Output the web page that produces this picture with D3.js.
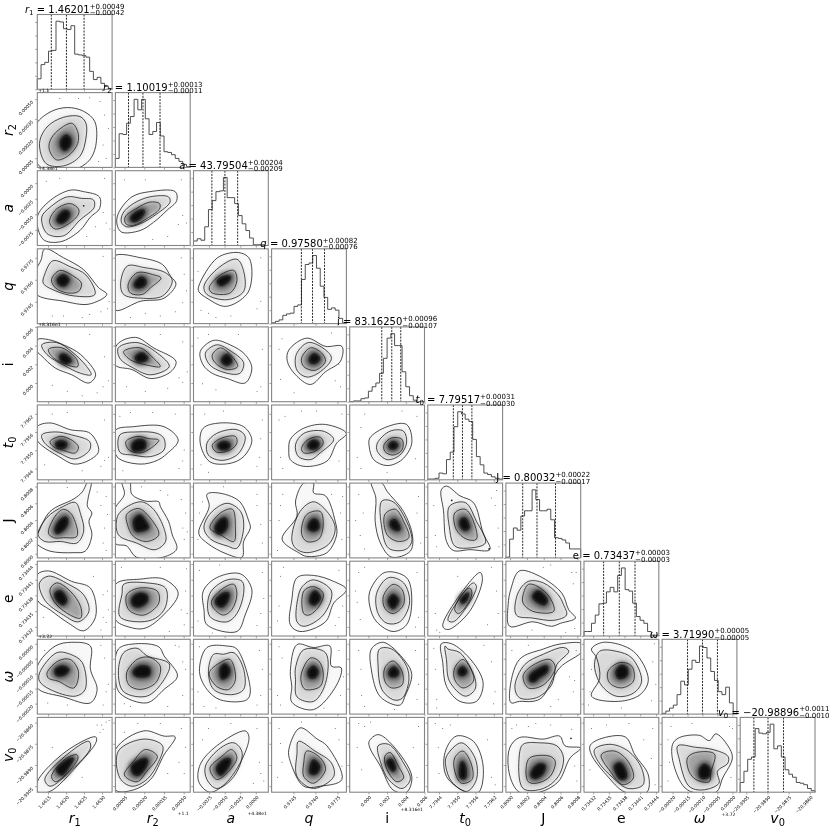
<!DOCTYPE html>
<html>
<head>
<meta charset="utf-8">
<script src="https://cdn.jsdelivr.net/npm/d3@7"></script>
<style>
body { margin: 0; background: #fff; }
text { font-family: "DejaVu Sans", sans-serif; fill: #000; }
#corner { filter: blur(0.35px); }
</style>
</head>
<body>
<svg id="corner" width="830" height="830"></svg>
<script>
// parameter names
const labelBase = ['r','r','a','q','i','t','J','e','ω','v'];
const labelSub = ['1','2','','','','0','','','','0'];
const labelItalic = [true,true,true,true,false,true,false,false,true,true];

// medians and 16/84 percentile offsets from the panel titles
const medians = [1.46201,1.10019,43.79504,0.97580,83.16250,7.79517,0.80032,0.73437,3.71990,-20.98896];
const plusErr = [0.00049,0.00013,0.00204,0.00082,0.00096,0.00031,0.00022,0.00003,0.00005,0.0011];
const minusErr = [0.00042,0.00011,0.00209,0.00076,0.00107,0.00030,0.00017,0.00003,0.00005,0.0010];
const medianText = ['1.46201','1.10019','43.79504','0.97580','83.16250','7.79517','0.80032','0.73437','3.71990','−20.98896'];
const plusText = ['+0.00049','+0.00013','+0.00204','+0.00082','+0.00096','+0.00031','+0.00022','+0.00003','+0.00005','+0.0011'];
const minusText = ['−0.00042','−0.00011','−0.00209','−0.00076','−0.00107','−0.00030','−0.00017','−0.00003','−0.00005','−0.0010'];

// axis spans estimated from where the dashed lines and ticks sit
const axisLo = [1.46120,1.09998,43.790,0.97301,83.158,7.79403,0.79995,0.7343025,3.719765,-20.99093];
const axisHi = [1.46328,1.10055,43.802,0.97811,83.166,7.79649,0.80084,0.7344455,3.720015,-20.98563];

const tickVals = [
  [1.4615,1.4620,1.4625,1.4630],
  [1.10005,1.10020,1.10035,1.10050],
  [43.7925,43.7950,43.7975,43.8000],
  [0.9745,0.9760,0.9775],
  [83.160,83.162,83.164,83.166],
  [7.7944,7.7950,7.7956,7.7962],
  [0.8000,0.8002,0.8004,0.8006,0.8008],
  [0.73432,0.73435,0.73438,0.73441,0.73444],
  [3.71980,3.71985,3.71990,3.71995,3.72000],
  [-20.9905,-20.9890,-20.9875,-20.9860]
];
const tickText = [
  ['1.4615','1.4620','1.4625','1.4630'],
  ['0.00005','0.00020','0.00035','0.00050'],
  ['−0.0075','−0.0050','−0.0025','0.0000'],
  ['0.9745','0.9760','0.9775'],
  ['0.000','0.002','0.004','0.006'],
  ['7.7944','7.7950','7.7956','7.7962'],
  ['0.8000','0.8002','0.8004','0.8006','0.8008'],
  ['0.73432','0.73435','0.73438','0.73441','0.73444'],
  ['−0.00020','−0.00015','−0.00010','−0.00005','0.00000'],
  ['−20.9905','−20.9890','−20.9875','−20.9860']
];
const offsetText = ['','+1.1','+4.38e1','','+8.316e1','','','','+3.72',''];

// histogram heights, percent of the panel height, 20 bins each
const hist_r1 = [14,33,36,51,52,91,90,81,80,85,47,46,45,43,24,13,16,8,4,1];
const hist_r2 = [12,45,44,59,68,91,77,91,65,44,48,60,42,21,20,17,12,8,4,1];
const hist_a = [6,9,7,25,48,60,72,73,91,64,64,56,40,29,20,10,1,1,1,0];
const hist_q = [1,3,5,11,13,14,23,25,59,79,81,91,74,50,35,19,21,18,7,1];
const hist_i = [0,1,1,4,5,14,20,25,38,58,85,91,75,75,40,20,8,2,0,0];
const hist_t0 = [1,1,2,9,8,27,37,71,91,88,81,78,54,31,20,9,7,4,2,1];
const hist_J = [1,25,40,37,56,63,63,91,78,63,63,65,51,27,26,24,20,12,12,12];
const hist_e = [6,6,17,28,43,44,59,65,59,81,91,62,60,44,26,21,17,6,1,1];
const hist_w = [1,4,8,12,26,44,39,60,72,69,91,89,75,57,45,30,26,36,15,1];
const hist_v0 = [13,28,44,47,85,79,78,80,91,58,62,47,30,24,20,13,12,10,5,2];
const histYTicks = [0,18,36,54,72,90];

// contours, x,y pairs in percent of each axis span; order is row by row under the diagonal
const contourOuter = [
 [-3,55,17,74,40,80,62,75,77,61,78,28,70,10,57,0,40,-6,15,-6,-3,10],
 [0,38,17,60,44,74,62,72,83,65,83,49,71,38,57,20,31,5,8,8],
 [4,43,22,65,46,72,80,72,82,60,69,47,51,31,33,20,8,18,2,29],
 [10,100,35,88,62,72,82,48,93,39,69,26,35,30,-2,40,-2,70,5,85],
 [-2,90,34,88,63,79,74,63,81,53,65,34,34,30,0,18,-3,50],
 [7,50,32,88,60,95,74,88,78,63,71,39,43,23,18,34,7,43],
 [0,83,15,83,35,76,58,63,78,36,69,25,46,36,24,45,6,61,0,67],
 [2,76,27,86,51,72,81,54,74,40,47,31,22,43,0,49],
 [9,67,27,82,49,76,69,63,78,45,69,25,45,31,25,38,13,49],
 [23,69,47,85,72,74,94,74,92,54,72,40,52,23,32,36,21,54],
 [0,71,17,76,44,67,71,62,82,38,69,26,49,21,29,31,6,46,0,53],
 [0,66,24,71,65,71,84,53,69,35,56,26,33,21,2,31],
 [9,49,13,69,36,76,67,71,78,53,67,31,49,22,22,24],
 [25,54,43,69,72,74,100,62,87,49,74,25,43,18,25,27,23,40],
 [27,56,50,71,76,74,83,49,70,27,50,19,32,27,26,45],
 [0,31,17,62,49,79,60,88,68,102,72,102,68,80,67,69,73,60,69,49,73,31,64,9,49,7,17,9,0,18,-4,24],
 [9,102,19,102,22,85,40,76,58,75,60,69,71,49,76,31,82,12,64,1,28,1,15,16,0,19,-3,49,0,67,12,85],
 [7,33,21,69,18,85,32,87,61,76,74,49,76,40,67,22,65,1,45,5,18,20],
 [14,25,34,56,32,76,43,100,56,100,56,87,72,83,85,49,87,31,74,7,47,2,36,7],
 [29,102,43,100,50,89,72,62,84,29,81,9,56,1,41,20,34,49,35,80],
 [18,91,25,96,43,83,61,74,74,33,83,11,56,11,34,10,25,22,21,63],
 [0,82,15,87,46,73,71,64,78,26,62,7,42,17,17,35,0,48],
 [0,69,33,76,65,76,84,57,60,24,38,10,18,12,0,22],
 [13,60,31,78,63,83,78,62,69,28,58,6,18,15,14,35],
 [34,78,56,81,83,73,100,62,83,44,72,19,38,6,25,15,27,48],
 [27,60,47,85,76,78,83,48,76,15,58,6,36,19,27,39],
 [20,15,38,48,70,85,73,75,56,33,29,9,22,10],
 [7,64,18,87,45,80,75,57,84,35,93,24,73,17,61,13,36,19,5,13,3,42],
 [0,64,24,91,46,96,71,91,71,60,80,33,71,15,35,23,0,35],
 [4,87,27,94,58,90,65,78,83,51,65,33,42,15,6,28,0,51],
 [8,57,18,89,45,91,58,87,76,30,71,19,36,19,18,33],
 [25,57,34,93,56,89,78,91,80,64,93,62,87,39,56,6,27,16,27,37],
 [29,87,45,96,74,71,83,53,74,24,67,12,41,23,29,59],
 [18,94,32,94,59,71,74,41,65,17,43,17,25,37,20,69],
 [5,30,18,73,50,87,74,94,102,94,102,84,72,62,48,22,36,17,18,17,7,15],
 [10,87,26,96,66,84,86,46,75,26,46,17,10,24,21,48,17,75],
 [0,14,39,55,78,74,79,68,53,35,17,1,1,0],
 [0,57,38,82,65,75,80,74,65,50,47,17,24,3,0,3],
 [9,37,31,62,69,82,74,75,69,53,45,14,22,0,7,14],
 [23,57,38,86,61,71,74,62,94,17,65,8,43,8,25,41],
 [26,68,38,77,58,62,83,21,76,0,58,3,41,35,27,59],
 [23,53,38,75,61,68,74,35,68,0,52,0,25,21],
 [5,59,18,73,50,71,72,75,79,62,100,59,86,46,70,14,45,0,18,0,5,23],
 [8,62,21,71,55,74,68,50,86,23,84,0,55,0,30,23,10,50],
 [14,64,23,73,50,76,63,69,72,78,88,62,94,46,81,19,72,0,34,3,16,35]
];
const contourSecond = [
 [3,32,13,54,35,67,57,68,65,59,65,39,57,15,35,2,12,5],
 [6,38,17,51,40,65,59,63,75,61,76,51,57,34,35,13,13,16],
 [10,43,24,56,46,65,71,65,73,58,55,42,33,29,15,25,8,31],
 [10,66,21,84,44,76,65,65,77,39,49,37,24,44,8,54],
 [7,54,16,77,38,75,67,68,76,57,63,37,34,34,11,39],
 [14,50,34,75,58,86,67,70,67,43,45,32,18,39],
 [6,76,26,79,46,67,66,47,72,36,58,38,35,49,13,63],
 [4,72,29,79,56,65,72,47,47,36,24,45,6,58],
 [16,65,31,76,51,67,67,52,62,38,45,38,22,49],
 [33,63,49,79,71,70,80,58,65,40,47,33,34,42],
 [6,60,24,64,46,60,70,51,70,40,51,28,31,35,10,49],
 [6,60,29,64,56,62,65,55,65,40,47,31,24,33,6,37],
 [18,49,31,62,58,67,69,58,60,35,38,26,20,33],
 [32,47,43,62,69,65,83,54,65,36,52,27,36,31],
 [37,49,54,65,72,65,76,49,67,33,50,27,37,38],
 [1,31,13,54,35,69,51,74,58,58,62,36,53,20,31,22,10,22],
 [4,58,33,75,49,67,64,42,67,22,53,11,28,20,4,31],
 [14,40,23,60,45,73,63,62,67,40,58,13,45,16,23,25],
 [27,25,38,62,56,75,74,62,85,40,76,18,47,7,32,13],
 [43,76,58,75,76,49,83,22,74,11,52,13,43,40],
 [29,69,50,74,65,49,77,20,52,13,36,16,29,40],
 [3,71,15,80,42,69,62,55,69,33,55,19,35,28,10,48],
 [9,57,11,69,42,71,67,64,67,39,54,24,33,19,6,26],
 [22,57,45,75,65,73,67,57,58,30,45,19,22,26],
 [41,66,56,75,80,60,69,28,43,13,34,19,35,50],
 [36,57,52,78,72,71,80,44,67,19,50,17,38,30],
 [27,21,41,48,61,71,65,66,52,39,34,19],
 [16,57,30,73,50,71,70,55,77,42,81,28,64,21,36,24,14,28],
 [3,55,26,82,44,80,60,69,64,33,51,24,17,33,3,44],
 [11,82,29,88,42,78,72,67,65,46,42,24,11,30,4,55],
 [20,57,27,80,40,80,54,82,67,60,67,33,51,26,27,33],
 [32,62,43,86,72,82,72,41,56,17,34,23,32,46],
 [40,87,56,87,76,64,79,44,70,21,59,19,43,33,38,64],
 [23,91,27,87,43,82,63,48,63,33,50,24,29,44,25,73],
 [12,37,25,66,50,80,77,89,84,84,68,66,61,39,41,22,18,22],
 [21,84,43,84,64,75,77,44,66,28,43,24,23,39,14,66],
 [10,17,37,48,69,68,71,59,46,30,17,8],
 [4,55,38,71,63,62,58,41,42,17,22,8,6,19],
 [16,35,36,59,54,66,65,53,54,21,31,5,18,17],
 [34,52,36,68,58,55,80,39,83,21,56,5,34,21],
 [38,62,52,64,72,39,81,17,70,5,52,17,41,41],
 [25,48,45,66,63,46,65,17,52,1,32,14,24,35],
 [18,50,23,64,45,66,68,62,77,46,70,21,50,5,23,5],
 [14,57,35,64,59,55,77,32,79,10,59,5,39,19,19,41],
 [21,62,45,60,68,57,88,48,88,39,74,28,76,12,54,3,36,8,23,44]
];
const contourThird = [
 [16,32,24,46,46,59,54,48,54,32,42,16,26,10,17,21],
 [17,36,26,49,44,56,55,49,55,42,42,29,24,22,17,29],
 [13,38,29,50,46,58,59,56,59,49,42,36,24,27,14,29],
 [19,59,30,71,49,63,59,54,55,43,40,41,24,48],
 [17,52,29,68,52,65,61,61,47,48,36,39,20,41],
 [21,48,36,65,54,71,58,57,49,41,25,41],
 [15,70,33,72,53,56,54,47,35,51,19,61],
 [11,67,33,72,51,58,60,47,42,49,20,56],
 [25,62,36,72,51,61,59,47,45,43,29,52],
 [40,58,52,72,67,65,72,54,58,42,43,47],
 [17,51,31,58,46,53,55,44,51,36,33,40,22,44],
 [14,51,29,58,45,55,58,53,47,42,33,36,18,40],
 [25,46,36,55,56,58,58,49,49,40,31,37],
 [40,42,49,54,65,57,69,49,58,38,43,36],
 [46,47,56,56,70,54,70,40,58,33,47,38],
 [15,33,24,56,35,65,46,58,53,29,35,27,22,27],
 [15,58,31,66,46,54,58,31,42,22,24,29,16,45],
 [22,40,36,60,52,65,56,40,54,22,36,31],
 [40,33,47,58,65,62,69,45,63,25,47,22],
 [47,58,61,65,72,49,79,27,65,22,50,31],
 [36,60,50,65,61,49,65,25,52,25,38,38],
 [17,62,26,71,44,60,58,39,58,24,44,28,24,44],
 [15,55,31,64,56,60,58,44,38,28,18,35],
 [24,46,40,64,54,69,58,55,51,35,40,28,27,37],
 [43,60,56,66,69,57,63,39,50,28,43,30],
 [45,53,58,69,70,62,72,42,58,30,47,37],
 [36,35,45,55,56,64,59,57,52,41,41,30],
 [23,55,30,69,43,66,59,51,64,33,36,33,23,44],
 [13,55,28,71,44,73,55,57,49,35,28,44,15,48],
 [15,55,29,73,45,76,60,64,54,42,33,33,18,39],
 [21,55,36,69,49,73,56,46,47,33,31,37],
 [40,55,52,75,63,71,69,55,65,37,45,33,40,41],
 [47,62,58,71,70,57,70,39,56,35,47,44],
 [36,62,47,73,59,57,61,44,47,35,36,46],
 [23,51,34,64,59,73,66,62,50,39,30,35],
 [32,57,48,69,64,64,66,44,50,35,34,42],
 [19,21,37,44,53,50,54,44,35,21,24,14],
 [12,23,24,41,40,57,56,48,42,28,29,14],
 [22,32,38,48,51,57,58,46,45,26,31,17],
 [43,39,47,55,65,46,72,30,56,12,43,21],
 [47,48,54,53,65,35,72,19,63,14,50,30],
 [36,46,47,55,59,35,59,17,45,12,36,28],
 [27,32,32,46,59,48,66,41,59,21,41,12,30,14],
 [23,50,41,55,59,41,66,19,52,10,35,28],
 [34,46,45,53,70,51,65,26,63,14,45,17,36,28]
];
const contourInner = [
 [32,37,39,43,44,39,44,30,37,23,32,27],
 [27,36,35,46,42,45,42,38,33,30,27,32],
 [21,38,31,46,38,47,38,43,29,33,22,33],
 [27,59,35,65,42,59,37,51,30,52],
 [26,54,34,62,40,59,40,52,31,48,26,50],
 [32,57,38,62,49,63,47,57,36,51],
 [31,62,37,63,45,54,37,51,31,56],
 [27,60,36,65,43,58,38,54,29,54],
 [38,57,45,63,51,54,45,49,39,52],
 [51,58,57,64,64,58,60,52,52,52],
 [25,49,32,52,39,49,37,43,27,43],
 [23,48,29,53,39,52,39,42,24,39],
 [33,47,41,51,48,48,47,42,36,41],
 [49,47,56,53,63,49,60,42,51,42],
 [53,47,58,51,64,47,61,42,54,42],
 [24,38,31,51,39,54,40,45,33,36,26,33],
 [25,51,33,57,40,49,44,40,28,36,25,42],
 [29,40,36,51,43,53,45,42,38,33,32,33],
 [49,40,54,51,60,51,63,40,56,36],
 [55,49,61,51,67,38,62,37,55,42],
 [44,51,50,53,55,40,50,37,44,42],
 [24,57,31,60,39,48,35,42,26,48],
 [23,51,33,57,42,54,42,46,31,39,23,42],
 [30,48,40,57,47,57,45,46,38,39,31,42],
 [52,53,58,60,65,51,58,42,52,44],
 [52,48,58,55,65,48,58,37,53,42],
 [44,48,50,55,54,57,52,48,46,44],
 [36,53,43,60,55,48,52,42,41,46],
 [24,59,33,64,42,60,37,53,26,52],
 [24,57,33,64,45,62,45,52,31,50,26,52],
 [36,61,42,67,48,60,46,51,38,47],
 [49,57,56,64,62,57,58,49,51,49],
 [53,57,59,63,65,57,63,51,54,51],
 [42,60,47,63,52,57,48,52,42,53],
 [32,51,43,60,55,64,55,57,43,48,39,44,33,44],
 [43,57,50,65,57,62,57,51,46,48],
 [26,30,40,43,48,45,44,37,33,23],
 [22,35,33,43,42,44,42,37,31,23,24,25],
 [31,32,42,44,49,44,47,35,36,23],
 [52,35,56,43,64,35,60,25,52,25],
 [50,41,56,44,61,32,58,28,52,35],
 [43,32,46,41,50,35,50,19,44,19],
 [34,26,43,37,52,36,50,26,41,19,35,20],
 [41,35,48,39,55,30,56,19,48,18,43,26],
 [50,30,56,37,63,33,63,21,52,19]
];

// a few of the stray samples outside the contours, same order and units
const strayPoints = [
 [84,88,90,70,95,52,88,30,70,93,55,92,92,12,82,8,30,92],
 [88,44,92,30,97,22,78,25,66,12,90,90,12,86,30,90],
 [90,40,95,30,84,28,12,88,70,12,50,8,88,88,40,88],
 [94,20,85,16,70,12,96,30,20,10,60,8,88,90,35,10],
 [90,28,95,44,80,16,60,10,40,14,92,66,88,88,20,8],
 [90,30,85,20,50,10,20,14,10,18,90,88,6,70,30,8],
 [95,28,88,20,80,12,60,8,40,14,20,22,90,60,70,90],
 [90,26,85,32,96,40,70,18,40,14,90,80,15,20,60,90],
 [90,20,85,14,30,16,12,24,92,70,60,90,6,85,20,90],
 [92,20,85,28,14,84,10,70,12,30,30,12,80,92,90,50],
 [90,26,95,30,85,18,60,12,90,80,40,90,20,88,10,20],
 [92,40,90,25,85,15,10,12,20,90,50,90,80,88,6,85],
 [88,30,85,18,92,80,10,20,15,88,40,92,90,55,20,10],
 [10,80,18,85,12,30,15,15,60,92,90,25,94,88,40,92],
 [10,30,15,70,20,88,88,28,90,85,50,10,15,15,70,92],
 [85,70,92,82,90,40,94,58,80,88,88,20,40,94,92,10],
 [90,40,94,60,88,78,70,84,92,25,60,90,35,95,96,35],
 [85,70,90,45,12,75,8,60,6,25,92,20,40,95,85,85],
 [12,70,10,50,8,10,92,60,95,82,80,85,94,25,15,85],
 [12,85,18,60,14,30,20,12,90,60,95,20,92,82,8,50],
 [8,70,10,30,90,70,94,40,85,80,92,90,12,15,95,15],
 [88,25,92,18,95,35,85,8,75,80,88,55,8,25,94,60],
 [88,35,92,15,95,90,60,92,8,92,94,60,72,6,96,30],
 [6,20,8,88,90,30,92,85,85,14,94,50,35,95,25,4],
 [10,40,12,80,8,20,90,25,85,14,95,40,90,88,16,92],
 [12,85,14,22,10,45,20,92,90,85,92,25,88,12,8,60],
 [12,8,16,5,10,30,80,15,85,92,92,60,40,80,94,30],
 [94,85,90,70,92,10,50,92,60,95,80,5,35,8,88,85],
 [85,92,90,75,92,30,95,40,88,12,40,12,14,15,10,85],
 [90,25,94,60,85,90,12,14,70,10,90,70,80,92,20,10],
 [8,90,6,30,90,25,92,60,85,12,14,10,88,85,30,8],
 [10,90,14,75,8,25,92,25,90,85,12,12,70,8,96,50],
 [15,60,12,85,16,25,88,85,90,20,92,40,20,10,60,6],
 [8,88,10,60,12,20,85,70,90,30,88,14,75,92,12,8],
 [92,45,85,50,90,30,70,20,60,10,94,85,8,85,30,92],
 [8,30,10,60,6,12,92,70,90,18,96,40,50,8,94,94],
 [86,90,92,94,88,84,84,80,96,96,20,60,60,20,80,90],
 [12,80,30,92,88,85,92,25,85,40,70,25,60,92,94,60],
 [12,70,20,85,88,40,90,25,85,85,80,12,50,92,94,15],
 [10,85,14,40,8,20,90,70,94,35,12,65,85,85,40,94],
 [20,88,12,92,28,94,90,20,85,60,10,60,92,88,16,30],
 [10,92,20,85,30,90,85,20,90,10,80,70,14,60,15,25],
 [8,85,30,88,60,90,88,84,92,35,95,15,40,92,14,90],
 [10,85,30,90,60,92,80,70,90,45,92,85,8,30,95,10],
 [8,70,10,40,12,88,40,92,90,88,92,20,8,15,94,85]
];
// dark specks from small islands of the contour: row, column, x, y
const speckRow = [2,6,6,9];
const speckCol = [0,5,5,6];
const speckX = [62,32,82,87];
const speckY = [53,77,12,72];

const hists = [hist_r1,hist_r2,hist_a,hist_q,hist_i,hist_t0,hist_J,hist_e,hist_w,hist_v0];
const nPar = labelBase.length;

// layout
const left = 37.3, top0 = 14.5, step = 78.1, size = 74.8;
const offsetY = {1:815,2:815,4:811,8:816};

const svg = d3.select('#corner');
const defs = svg.append('defs');
defs.append('clipPath').attr('id','panelClip').append('rect').attr('width',size).attr('height',size);
function addBlur(id, dev) {
  defs.append('filter').attr('id',id).attr('x','-80%').attr('y','-80%').attr('width','260%').attr('height','260%')
    .append('feGaussianBlur').attr('stdDeviation',dev);
}
addBlur('blurWide',2.2);
addBlur('blurHalo',2.6);
addBlur('blurTight',0.9);

const pct = d3.scaleLinear().domain([0,100]).range([0,size]);
const pctY = d3.scaleLinear().domain([0,100]).range([size,0]);
const axisX = d3.range(nPar).map(k => d3.scaleLinear().domain([axisLo[k],axisHi[k]]).range([0,size]));
const axisY = d3.range(nPar).map(k => d3.scaleLinear().domain([axisLo[k],axisHi[k]]).range([size,0]));

const blob = d3.line().x(d => pct(d[0])).y(d => pctY(d[1])).curve(d3.curveCatmullRomClosed.alpha(0.5));
const histLine = d3.line().x(d => pct(d[0])).y(d => pctY(d[1])).curve(d3.curveStepAfter);

function pairs(flat) {
  let out = [];
  for (let k = 0; k < flat.length; k += 2) out.push([flat[k],flat[k+1]]);
  return out;
}

function drawAxes(g, row, col, isHist) {
  let xAxis = d3.axisBottom(axisX[col]).tickValues(tickVals[col]).tickSizeOuter(0).tickSize(2.2).tickPadding(1.5)
    .tickFormat((d,n) => row == nPar-1 ? tickText[col][n] : '');
  let gx = g.append('g').attr('transform','translate(0,'+size+')').call(xAxis);
  gx.select('.domain').remove();
  gx.selectAll('line').attr('stroke','#666').attr('stroke-width',0.6);
  gx.selectAll('text').attr('font-size',4.5).attr('font-family','"DejaVu Sans"')
    .attr('text-anchor','end').attr('transform','rotate(-45) translate(-2,-1)');

  let yAxis;
  if (isHist) {
    yAxis = d3.axisLeft(pctY).tickValues(histYTicks).tickSize(2.2).tickFormat('');
  } else {
    yAxis = d3.axisLeft(axisY[row]).tickValues(tickVals[row]).tickSize(2.2).tickPadding(1.5)
      .tickFormat((d,n) => col == 0 ? tickText[row][n] : '');
  }
  let gy = g.append('g').call(yAxis);
  gy.select('.domain').remove();
  gy.selectAll('line').attr('stroke','#666').attr('stroke-width',0.6);
  gy.selectAll('text').attr('font-size',4.5).attr('font-family','"DejaVu Sans"')
    .attr('text-anchor','end').attr('transform','rotate(-45) translate(-1,-2)');

  g.append('rect').attr('width',size).attr('height',size).attr('fill','none')
    .attr('stroke','#858585').attr('stroke-width',1.1);
}

function drawLabelText(t, k, subShift) {
  let b = t.append('tspan').text(labelBase[k]);
  if (labelItalic[k]) b.attr('font-style','italic');
  if (labelSub[k]) t.append('tspan').attr('font-size','70%').attr('dy',subShift).text(labelSub[k]);
}

function drawTitle(k) {
  let cx = left + k*step + size/2;
  let base = top0 + k*step - 1.8;
  let g = svg.append('g');
  let t = g.append('text').attr('font-size',10).attr('y',0);
  drawLabelText(t, k, 2.2);
  t.append('tspan').attr('dy',labelSub[k] ? -2.2 : 0).text(' = ' + medianText[k]);
  let w = t.node().getComputedTextLength();
  let up = g.append('text').attr('font-size',7).attr('x',w).attr('y',-4.2).text(plusText[k]);
  let down = g.append('text').attr('font-size',7).attr('x',w).attr('y',2.4).text(minusText[k]);
  let w2 = Math.max(up.node().getComputedTextLength(), down.node().getComputedTextLength());
  // the last title would run off the page, keep it just inside
  let tx = Math.min(cx-(w+w2)/2, 829.5-w-w2);
  g.attr('transform','translate('+tx+','+base+')');
}

// panels under the diagonal
let n = 0;
d3.range(nPar).forEach(row => {
  d3.range(row).forEach(col => {
    let g = svg.append('g').attr('transform','translate('+(left+col*step)+','+(top0+row*step)+')');
    let c = g.append('g').attr('clip-path','url(#panelClip)');
    c.append('path').attr('d',blob(pairs(contourOuter[n]))).attr('fill','#f8f8f8');
    let soft = c.append('g').attr('filter','url(#blurWide)');
    soft.append('path').attr('d',blob(pairs(contourSecond[n]))).attr('fill','#dadada');
    soft.append('path').attr('d',blob(pairs(contourThird[n]))).attr('fill','#a2a2a2');
    // dark halo round the peak, then the peak itself
    c.append('g').attr('filter','url(#blurHalo)').append('path').attr('d',blob(pairs(contourInner[n])))
      .attr('fill','#3a3a3a').attr('stroke','#3a3a3a').attr('stroke-width',6).attr('stroke-linejoin','round');
    c.append('g').attr('filter','url(#blurTight)')
      .append('path').attr('d',blob(pairs(contourInner[n]))).attr('fill','#0c0c0c');
    [contourOuter,contourSecond,contourThird,contourInner].forEach(lv => {
      c.append('path').attr('d',blob(pairs(lv[n]))).attr('fill','none')
        .attr('stroke','#1d1d1d').attr('stroke-width',0.8);
    });
    c.selectAll('circle.stray').data(pairs(strayPoints[n])).enter().append('circle')
      .attr('class','stray').attr('cx',d => pct(d[0])).attr('cy',d => pctY(d[1]))
      .attr('r',0.5).attr('fill','#555');
    speckRow.forEach((r,m) => {
      if (r == row && speckCol[m] == col) {
        c.append('circle').attr('cx',pct(speckX[m])).attr('cy',pctY(speckY[m])).attr('r',0.9).attr('fill','#222');
      }
    });
    drawAxes(g,row,col,false);
    n++;
  });
});

// diagonal histograms
d3.range(nPar).forEach(k => {
  let g = svg.append('g').attr('transform','translate('+(left+k*step)+','+(top0+k*step)+')');
  let pts = [[0,0]];
  hists[k].forEach((h,b) => pts.push([b*5,h]));
  pts.push([100,hists[k][19]]);
  pts.push([100,0]);
  g.append('path').attr('d',histLine(pts)).attr('fill','none').attr('stroke','#3c3c3c').attr('stroke-width',0.9);
  [medians[k]-minusErr[k],medians[k],medians[k]+plusErr[k]].forEach(q => {
    g.append('line').attr('x1',axisX[k](q)).attr('x2',axisX[k](q)).attr('y1',0).attr('y2',size)
      .attr('stroke','#111').attr('stroke-width',0.9).attr('stroke-dasharray','2,1.2');
  });
  drawAxes(g,k,k,true);
});

// titles go above everything, they run over the neighbouring panels
d3.range(nPar).forEach(k => drawTitle(k));

// axis labels
d3.range(nPar).forEach(k => {
  let tx = svg.append('text').attr('font-size',14).attr('text-anchor','middle')
    .attr('x',left+k*step+size/2).attr('y',822.5);
  drawLabelText(tx,k,3);
  if (k > 0) {
    let cy = top0+k*step+size/2;
    let ty = svg.append('text').attr('font-size',14).attr('text-anchor','middle')
      .attr('transform','translate(13,'+cy+') rotate(-90)');
    drawLabelText(ty,k,3);
  }
});

// offset texts of the tick formatter
offsetText.forEach((s,k) => {
  if (!s) return;
  svg.append('text').attr('font-size',4.5).attr('text-anchor','end')
    .attr('x',left+k*step+size-1.5).attr('y',offsetY[k]).text(s);
  svg.append('text').attr('font-size',4.5)
    .attr('x',left+1).attr('y',top0+k*step-1).text(s);
});
</script>
</body>
</html>
